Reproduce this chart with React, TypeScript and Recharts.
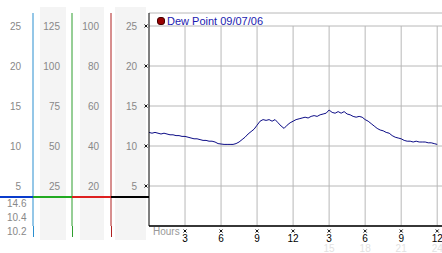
import React from 'react';
import { LineChart, Line, XAxis, YAxis, CartesianGrid, ReferenceLine, Legend } from 'recharts';

const SERIES_NAME = 'Dew Point 09/07/06';

// Dew point readings every 15 minutes, 00:00 -> 24:00
const dewPoint = [
  11.7, 11.6, 11.7, 11.6,
  11.5, 11.6, 11.5, 11.4,
  11.4, 11.3, 11.3, 11.2,
  11.2, 11.1, 11.0, 10.9,
  10.9, 10.8, 10.7, 10.7,
  10.6, 10.6, 10.5, 10.3,
  10.25, 10.2, 10.2, 10.2,
  10.2, 10.3, 10.5, 10.8,
  11.1, 11.5, 11.8, 12.1,
  12.6, 13.1, 13.3, 13.2,
  13.3, 13.1, 13.3, 12.9,
  12.5, 12.2, 12.6, 12.9,
  13.1, 13.3, 13.4, 13.5,
  13.6, 13.5, 13.7, 13.8,
  13.7, 13.9, 14.0, 14.1,
  14.5, 14.2, 14.1, 14.3,
  14.1, 14.3, 14.0, 13.9,
  13.7, 13.6, 13.7, 13.6,
  13.3, 13.1, 12.8, 12.5,
  12.2, 12.0, 11.9, 11.7,
  11.6, 11.3, 11.1, 11.0,
  10.9, 10.7, 10.6, 10.6,
  10.5, 10.6, 10.5, 10.5,
  10.5, 10.4, 10.4, 10.3,
  10.2,
];

const hourTicks = [3, 6, 9, 12, 15, 18, 21, 24];
const hourLabels = ['3', '6', '9', '12', '3', '6', '9', '12'];
const faintLabels = ['', '', '', '', '15', '18', '21', '24'];
const dewTicks = [5, 10, 15, 20, 25];
const col2Ticks = [25, 50, 75, 100, 125];
const col3Ticks = [20, 40, 60, 80, 100];
const statLabels = ['14.6', '10.4', '10.2'];

const data = dewPoint.map((v, i) => ({ t: i / 4, dew: v }));

const FONT = '"Liberation Sans", Arial, sans-serif';

const YTick = (props: any) => {
  const { x, y, payload, mark } = props;
  return (
    <g>
      <text x={x - 12} y={y} dy={3.5} textAnchor="end" fontSize={10} fill="#888" fontFamily={FONT}>
        {payload.value}
      </text>
      {mark && (
        <path
          d={`M${x - 4.5},${y - 1.5} l3,3 M${x - 1.5},${y - 1.5} l-3,3`}
          stroke="#111"
          strokeWidth={1}
          fill="none"
        />
      )}
    </g>
  );
};

const XTick = (props: any) => {
  const { x, y, payload } = props;
  const idx = hourTicks.indexOf(payload.value);
  return (
    <g>
      <path
        d={`M${x - 1.5},${y + 3.5} l3,3 M${x + 1.5},${y + 3.5} l-3,3`}
        stroke="#111"
        strokeWidth={1}
        fill="none"
      />
      <text x={x} y={y + 16} textAnchor="middle" fontSize={10} fill="#000" fontFamily={FONT}>
        {hourLabels[idx]}
      </text>
      {faintLabels[idx] && (
        <text x={x} y={y + 26} textAnchor="middle" fontSize={10} fill="#e2e2e2" fontFamily={FONT}>
          {faintLabels[idx]}
        </text>
      )}
    </g>
  );
};

const LegendContent = () => (
  <div style={{ display: 'flex', alignItems: 'center', fontFamily: FONT, fontSize: 11, color: '#1a1ab0', whiteSpace: 'nowrap' }}>
    <span
      style={{
        display: 'inline-block',
        width: 6,
        height: 6,
        borderRadius: 3,
        background: '#990000',
        border: '0.5px solid #400',
        marginRight: 2,
      }}
    />
    <span>{SERIES_NAME}</span>
  </div>
);

const abs = (l: number, t: number, w: number, h: number, bg: string): React.CSSProperties => ({
  position: 'absolute',
  left: l,
  top: t,
  width: w,
  height: h,
  background: bg,
});

const axisCommon = {
  tickSize: 0,
  tickMargin: 0,
  tickLine: false,
  interval: 0 as const,
  allowDataOverflow: true,
};

export default function App() {
  return (
    <div style={{ position: 'absolute', left: 0, top: 0, width: 442, height: 253, background: '#fff', overflow: 'hidden' }}>
      {/* column shading */}
      <div style={abs(40, 7, 26, 233, '#f4f4f4')} />
      <div style={abs(80, 7, 24, 233, '#f4f4f4')} />
      <div style={abs(115, 7, 31, 233, '#f4f4f4')} />

      <div style={{ position: 'absolute', left: 0, top: 0 }}>
        <LineChart width={442} height={253} data={data} margin={{ top: 13, right: 0, bottom: 0, left: 0 }}>
          <XAxis
            dataKey="t"
            type="number"
            domain={[0, 24.4]}
            ticks={hourTicks}
            height={27}
            tickSize={0}
            tickMargin={0}
            tickLine={false}
            axisLine={{ stroke: '#000', strokeWidth: 1.5 }}
            tick={<XTick />}
            interval={0}
          />
          <YAxis
            yAxisId="y1"
            type="number"
            domain={[0, 26.625]}
            ticks={dewTicks}
            width={38}
            {...axisCommon}
            axisLine={{ stroke: '#000' }}
            tick={<YTick mark />}
          />
          <YAxis
            yAxisId="y2"
            type="number"
            domain={[0, 106.5]}
            ticks={col3Ticks}
            width={39}
            {...axisCommon}
            axisLine={{ stroke: '#b02020' }}
            tick={<YTick />}
          />
          <YAxis
            yAxisId="y3"
            type="number"
            domain={[0, 133.125]}
            ticks={col2Ticks}
            width={39}
            {...axisCommon}
            axisLine={{ stroke: '#2e9e2e' }}
            tick={<YTick />}
          />
          <YAxis
            yAxisId="y4"
            type="number"
            domain={[0, 26.625]}
            ticks={dewTicks}
            width={33}
            {...axisCommon}
            axisLine={{ stroke: '#2b8fd0' }}
            tick={<YTick />}
          />
          <CartesianGrid yAxisId="y1" vertical={false} stroke="#b8b8b8" />
          {hourTicks.map((h) => (
            <ReferenceLine
              key={h}
              yAxisId="y1"
              segment={[{ x: h, y: 0 }, { x: h, y: 25 }]}
              stroke="#b8b8b8"
            />
          ))}
          <Legend
            layout="horizontal"
            verticalAlign="middle"
            align="center"
            content={<LegendContent />}
            wrapperStyle={{ position: 'absolute', left: 157, top: 15, width: 'auto', height: 'auto' }}
          />
          <Line
            yAxisId="y1"
            type="linear"
            dataKey="dew"
            name={SERIES_NAME}
            stroke="#0c0c86"
            strokeWidth={1}
            dot={false}
            isAnimationActive={false}
          />
        </LineChart>
      </div>

      {/* coloured baseline segments */}
      <div style={abs(0, 196, 33, 2, '#0a3ccc')} />
      <div style={abs(33, 196, 39, 2, '#22aa22')} />
      <div style={abs(72, 196, 39, 2, '#dd2020')} />
      <div style={abs(111, 196, 38, 2, '#000')} />
      {/* axis line extensions */}
      <div style={abs(32.5, 226, 1, 11, '#2b8fd0')} />
      <div style={abs(71.5, 226, 1, 11, '#2e9e2e')} />
      <div style={abs(110.5, 226, 1, 11, '#b02020')} />

      {statLabels.map((s, i) => (
        <div
          key={s + i}
          style={{ position: 'absolute', left: 7, top: 198 + i * 14, fontFamily: FONT, fontSize: 10, color: '#888', lineHeight: '12px' }}
        >
          {s}
        </div>
      ))}
      <div style={{ position: 'absolute', left: 153, top: 226, fontFamily: FONT, fontSize: 10, color: '#999', lineHeight: '12px' }}>
        Hours
      </div>
    </div>
  );
}
